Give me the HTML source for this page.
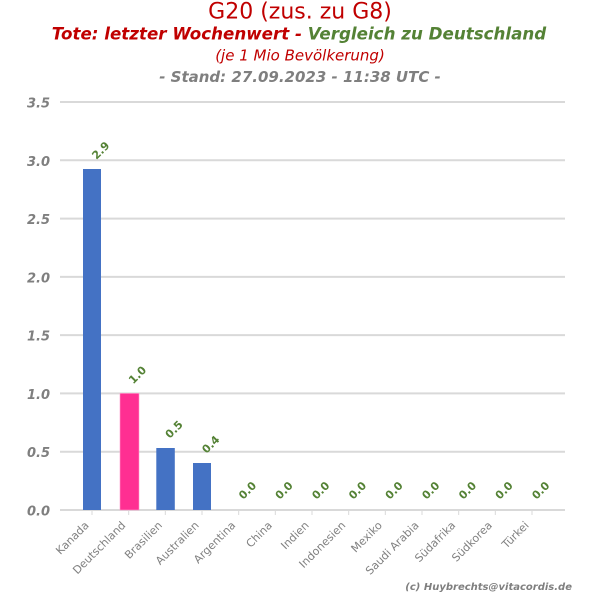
<!DOCTYPE html>
<html><head><meta charset="utf-8"><style>
html,body{margin:0;padding:0;background:#fff;}
svg{display:block;font-family:"DejaVu Sans","Liberation Sans",sans-serif;}
</style></head><body>
<svg width="600" height="600" viewBox="0 0 600 600" xmlns="http://www.w3.org/2000/svg">
<rect width="600" height="600" fill="#fff"/>
<text x="300" y="18.7" text-anchor="middle" font-size="22" fill="#c00000">G20 (zus. zu G8)</text>
<text x="299" y="39.5" text-anchor="middle" font-size="16.7" font-weight="bold" font-style="italic"><tspan fill="#c00000">Tote: letzter Wochenwert - </tspan><tspan fill="#548235">Vergleich zu Deutschland</tspan></text>
<text x="300" y="60.5" text-anchor="middle" font-size="15" font-style="italic" fill="#c00000">(je 1 Mio Bevölkerung)</text>
<text x="300" y="82" text-anchor="middle" font-size="15" font-weight="bold" font-style="italic" fill="#7f7f7f">- Stand: 27.09.2023 - 11:38 UTC -</text>

<g stroke="#d9d9d9" stroke-width="2">
<line x1="60" x2="565" y1="102" y2="102"/>
<line x1="60" x2="565" y1="160.3" y2="160.3"/>
<line x1="60" x2="565" y1="218.6" y2="218.6"/>
<line x1="60" x2="565" y1="276.9" y2="276.9"/>
<line x1="60" x2="565" y1="335.1" y2="335.1"/>
<line x1="60" x2="565" y1="393.4" y2="393.4"/>
<line x1="60" x2="565" y1="451.7" y2="451.7"/>
<line x1="60" x2="565" y1="510" y2="510"/>
</g>
<g stroke="#d9d9d9" stroke-width="1">
<line x1="92" x2="92" y1="510" y2="515"/>
<line x1="128.7" x2="128.7" y1="510" y2="515"/>
<line x1="165.3" x2="165.3" y1="510" y2="515"/>
<line x1="202" x2="202" y1="510" y2="515"/>
<line x1="238.7" x2="238.7" y1="510" y2="515"/>
<line x1="275.3" x2="275.3" y1="510" y2="515"/>
<line x1="312" x2="312" y1="510" y2="515"/>
<line x1="348.7" x2="348.7" y1="510" y2="515"/>
<line x1="385.3" x2="385.3" y1="510" y2="515"/>
<line x1="422" x2="422" y1="510" y2="515"/>
<line x1="458.7" x2="458.7" y1="510" y2="515"/>
<line x1="495.3" x2="495.3" y1="510" y2="515"/>
<line x1="532" x2="532" y1="510" y2="515"/>
</g>

<g font-size="13" font-weight="bold" font-style="italic" fill="#7f7f7f" text-anchor="end">
<text x="50" y="107.5">3.5</text>
<text x="50" y="165.8">3.0</text>
<text x="50" y="224.1">2.5</text>
<text x="50" y="282.4">2.0</text>
<text x="50" y="340.6">1.5</text>
<text x="50" y="398.9">1.0</text>
<text x="50" y="457.2">0.5</text>
<text x="50" y="515.5">0.0</text>
</g>

<rect x="83" y="169" width="18" height="341" fill="#4472c4"/>
<rect x="120" y="393.4" width="19" height="116.6" fill="#ff2f92" stroke="#ff99cc" stroke-width="0.6"/>
<rect x="156.3" y="448" width="18.5" height="62" fill="#4472c4"/>
<rect x="193" y="463" width="18" height="47" fill="#4472c4"/>

<g font-size="11" font-weight="bold" fill="#548235">
<text transform="translate(96.5,160) rotate(-45)">2.9</text>
<text transform="translate(133.2,384.5) rotate(-45)">1.0</text>
<text transform="translate(169.8,439) rotate(-45)">0.5</text>
<text transform="translate(206.5,454) rotate(-45)">0.4</text>
<text transform="translate(243.2,500) rotate(-45)">0.0</text>
<text transform="translate(279.8,500) rotate(-45)">0.0</text>
<text transform="translate(316.5,500) rotate(-45)">0.0</text>
<text transform="translate(353.2,500) rotate(-45)">0.0</text>
<text transform="translate(389.8,500) rotate(-45)">0.0</text>
<text transform="translate(426.5,500) rotate(-45)">0.0</text>
<text transform="translate(463.2,500) rotate(-45)">0.0</text>
<text transform="translate(499.8,500) rotate(-45)">0.0</text>
<text transform="translate(536.5,500) rotate(-45)">0.0</text>
</g>

<g font-size="11" fill="#808080" text-anchor="end">
<text transform="translate(89.5,526) rotate(-45)">Kanada</text>
<text transform="translate(126.2,526) rotate(-45)">Deutschland</text>
<text transform="translate(162.8,526) rotate(-45)">Brasilien</text>
<text transform="translate(199.5,526) rotate(-45)">Australien</text>
<text transform="translate(236.2,526) rotate(-45)">Argentina</text>
<text transform="translate(272.8,526) rotate(-45)">China</text>
<text transform="translate(309.5,526) rotate(-45)">Indien</text>
<text transform="translate(346.2,526) rotate(-45)">Indonesien</text>
<text transform="translate(382.8,526) rotate(-45)">Mexiko</text>
<text transform="translate(419.5,526) rotate(-45)">Saudi Arabia</text>
<text transform="translate(456.2,526) rotate(-45)">Südafrika</text>
<text transform="translate(492.8,526) rotate(-45)">Südkorea</text>
<text transform="translate(529.5,526) rotate(-45)">Türkei</text>
</g>

<text x="572" y="590" text-anchor="end" font-size="10" font-weight="bold" font-style="italic" fill="#7f7f7f">(c) Huybrechts@vitacordis.de</text>
</svg>
</body></html>
